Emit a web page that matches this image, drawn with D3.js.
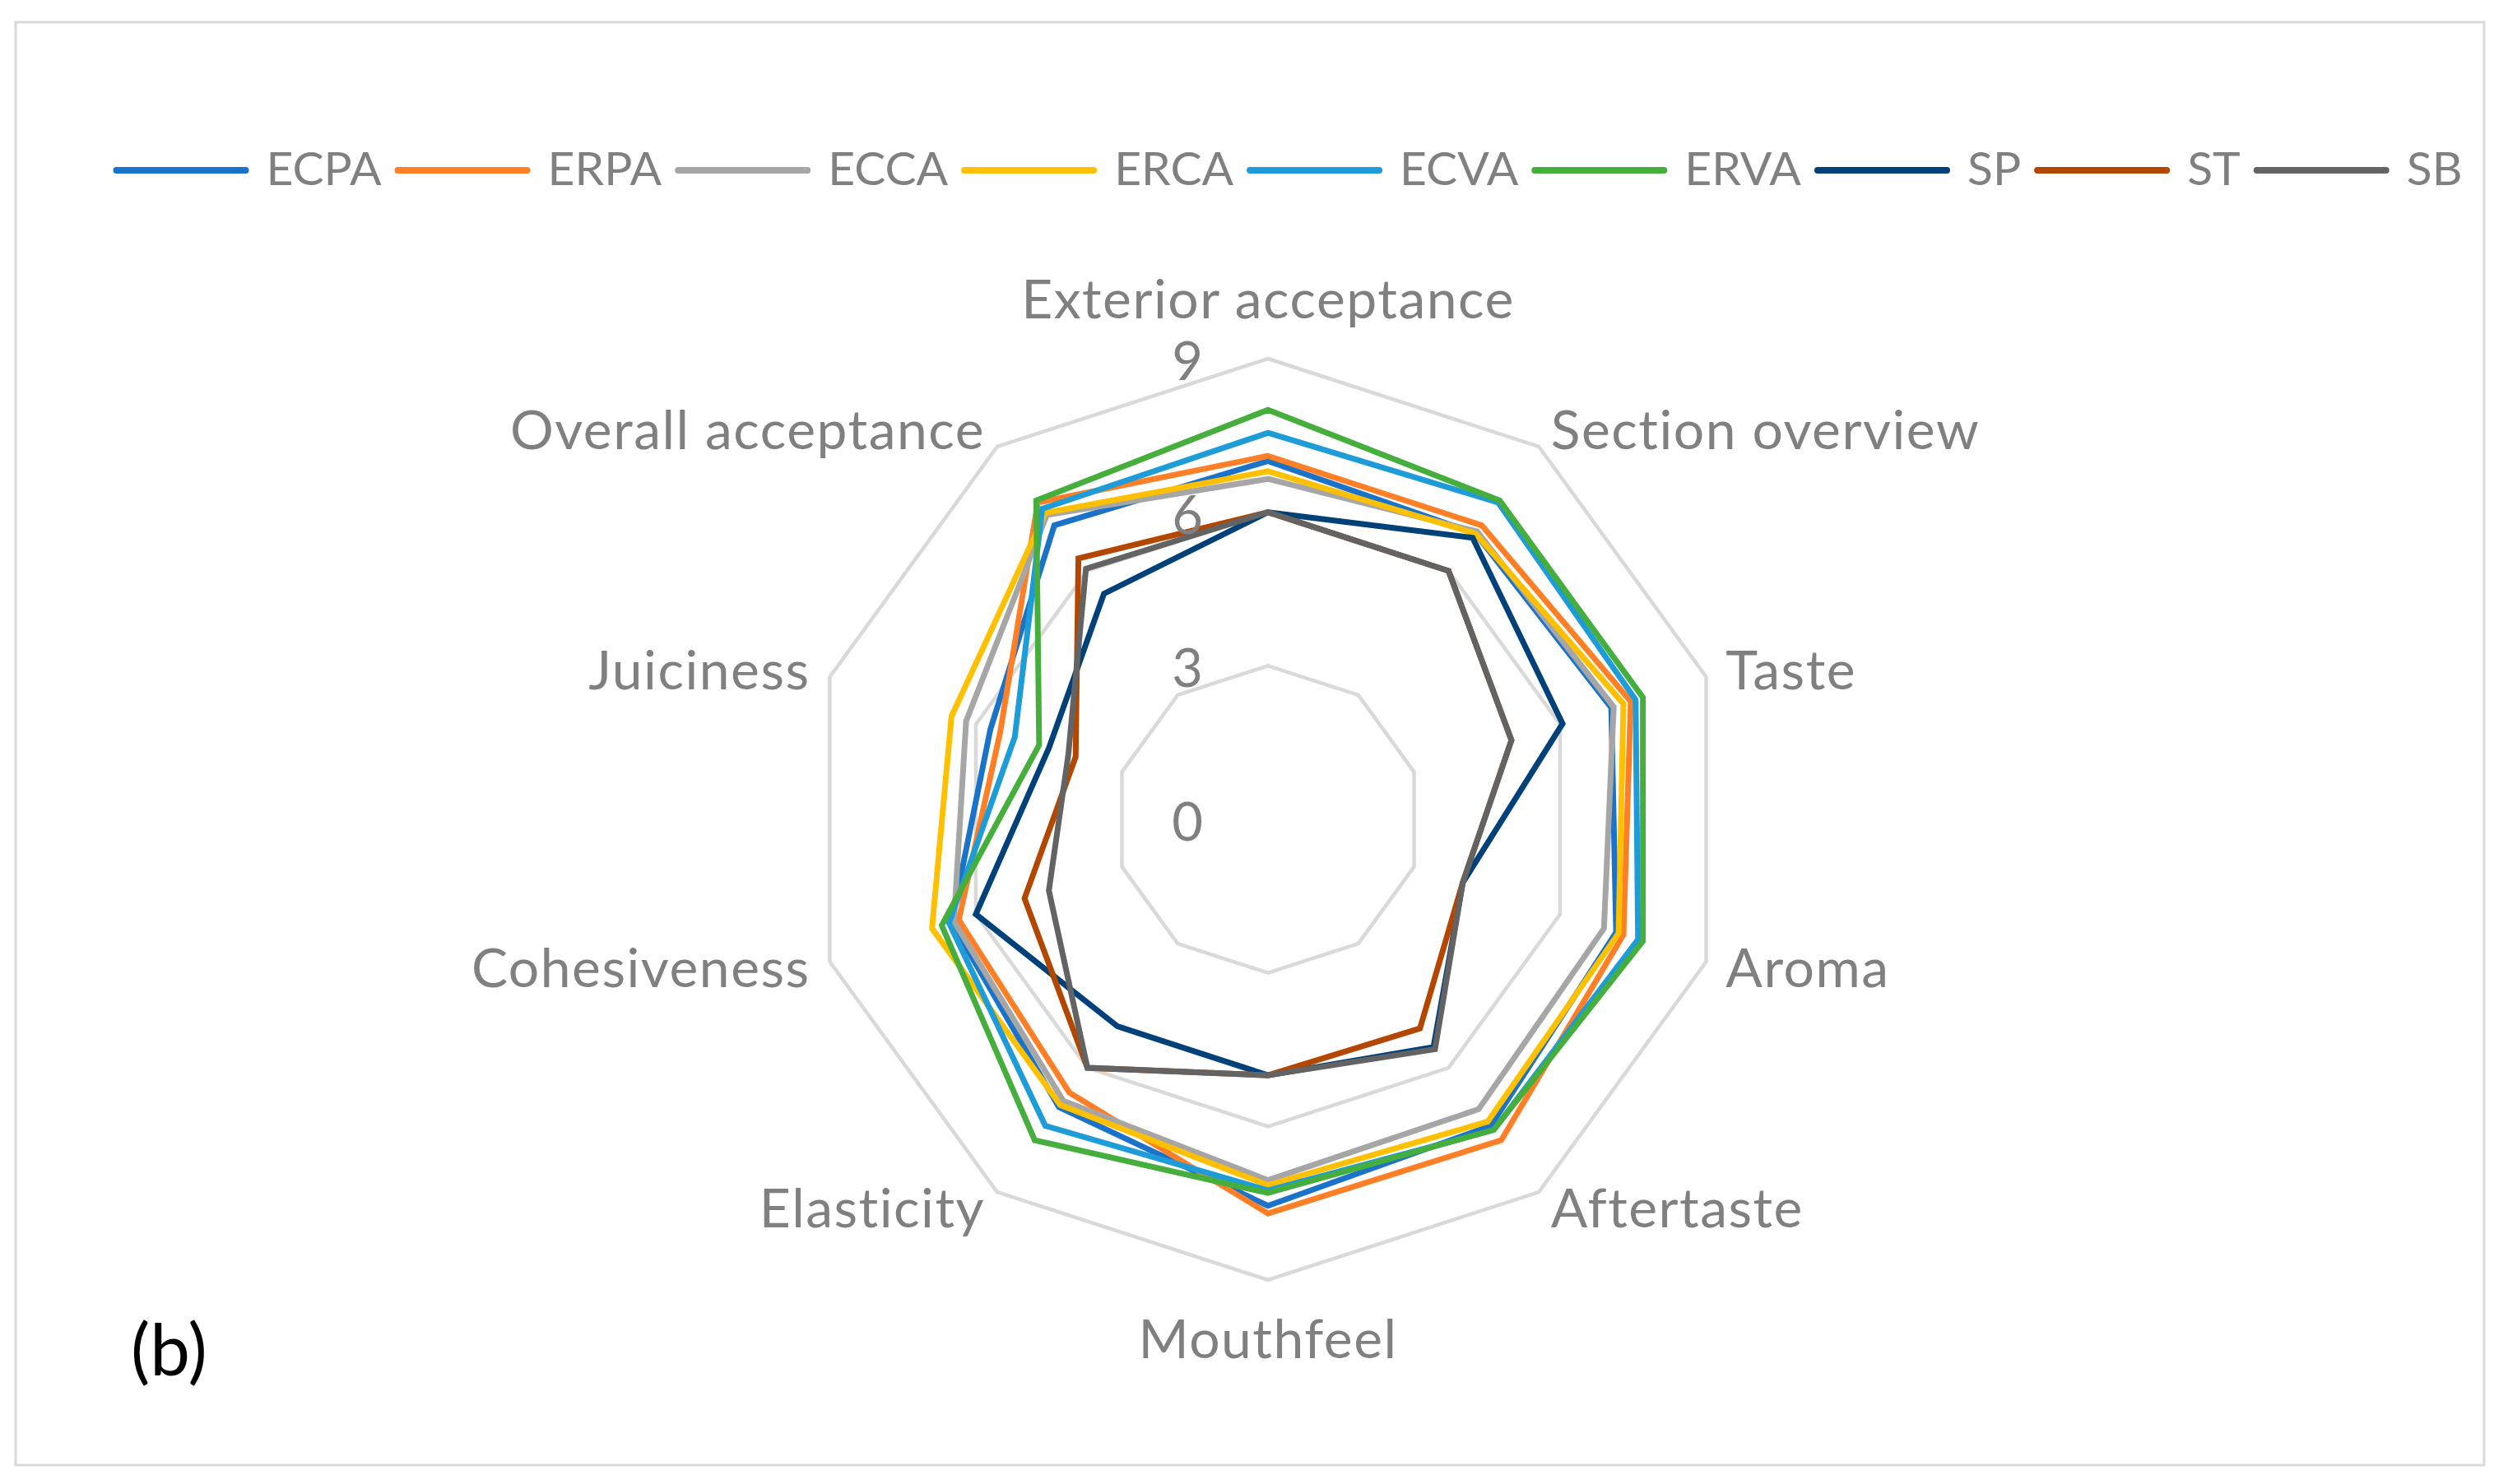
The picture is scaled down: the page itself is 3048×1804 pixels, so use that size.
<!DOCTYPE html>
<html>
<head>
<meta charset="utf-8">
<script src="https://cdn.jsdelivr.net/npm/d3@7"></script>
<style>
  html, body { margin: 0; padding: 0; background: #ffffff; }
  svg { display: block; }
</style>
</head>
<body>
<svg id="chart" width="3048" height="1804"></svg>
<script>
// ---------- data ----------
const categories = ["Exterior acceptance", "Section overview", "Taste", "Aroma", "Aftertaste",
                    "Mouthfeel", "Elasticity", "Cohesiveness", "Juiciness", "Overall acceptance"];
const seriesNames = ["ECPA", "ERPA", "ECCA", "ERCA", "ECVA", "ERVA", "SP", "ST", "SB"];
const seriesColors = ["#1B73C9", "#FF7F27", "#A6A6A6", "#FFC000", "#1E9CD8", "#46AE3C", "#00417A", "#B34700", "#636363"];
const ECPA = [7.0, 6.9, 7.05, 7.15, 7.4, 7.55, 6.95, 6.5, 5.7, 7.1];
const ERPA = [7.1, 7.1, 7.45, 7.3, 7.75, 7.7, 6.6, 6.35, 5.5, 7.65];
const ECCA = [6.65, 6.95, 7.1, 6.9, 7.0, 7.05, 6.8, 6.45, 6.2, 7.35];
const ERCA = [6.8, 6.9, 7.3, 7.2, 7.3, 7.15, 6.9, 6.9, 6.5, 7.4];
const ECVA = [7.55, 7.65, 7.55, 7.6, 7.5, 7.25, 7.4, 6.55, 5.2, 7.5];
const ERVA = [8.0, 7.7, 7.7, 7.7, 7.5, 7.3, 7.75, 6.7, 4.7, 7.7];
const SP   = [6.0, 6.8, 6.05, 4.0, 5.5, 5.0, 5.0, 6.0, 4.5, 5.45];
const ST   = [6.0, 6.0, 5.0, 4.0, 5.05, 5.0, 6.0, 5.0, 3.95, 6.3];
const SB   = [6.0, 6.0, 5.0, 4.0, 5.55, 5.0, 6.0, 4.5, 4.1, 6.05];
const seriesValues = [ECPA, ERPA, ECCA, ERCA, ECVA, ERVA, SP, ST, SB];
const ticks = [0, 3, 6, 9];
const gridLevels = [3, 6, 9];
const panelLabel = "(b)";

// ---------- layout ----------
const W = 3048, H = 1804;
const cx = 1541, cy = 996, R = 560;
const textColor = "#808080";
const gridColor = "#D9D9D9";
const font = "Lato, 'Open Sans', sans-serif";

const svg = d3.select("#chart");
svg.append("rect").attr("x", 0).attr("y", 0).attr("width", W).attr("height", H).attr("fill", "#fff");
svg.append("rect").attr("x", 19).attr("y", 27).attr("width", 3000).attr("height", 1754)
   .attr("fill", "none").attr("stroke", gridColor).attr("stroke-width", 3);

const r = d3.scaleLinear().domain([0, 9]).range([0, R]);
const n = categories.length;
const angle = i => i * 2 * Math.PI / n;

const g = svg.append("g").attr("transform", `translate(${cx},${cy})`);

// grid rings
const ringLine = d3.lineRadial()
  .angle((d, i) => angle(i))
  .radius(d => r(d))
  .curve(d3.curveLinearClosed);

g.selectAll("path.ring").data(gridLevels).join("path")
  .attr("class", "ring")
  .attr("d", v => ringLine(categories.map(() => v)))
  .attr("fill", "none").attr("stroke", gridColor).attr("stroke-width", 4.5)
  .attr("stroke-linejoin", "miter");

// series
const seriesLine = d3.lineRadial()
  .angle((d, i) => angle(i))
  .radius(d => r(d))
  .curve(d3.curveLinearClosed);

g.selectAll("path.series").data(seriesValues).join("path")
  .attr("class", "series")
  .attr("d", d => seriesLine(d))
  .attr("fill", "none")
  .attr("stroke", (d, i) => seriesColors[i])
  .attr("stroke-width", 7)
  .attr("stroke-linejoin", "miter");

// tick labels
g.selectAll("text.tick").data(ticks).join("text")
  .attr("class", "tick")
  .attr("x", -79)
  .attr("y", v => -r(v) + 26)
  .attr("text-anchor", "end")
  .attr("font-family", font).attr("font-size", 65)
  .attr("fill", textColor)
  .text(v => v);

// axis labels
g.selectAll("text.axis").data(categories).join("text")
  .attr("class", "axis")
  .each(function (d, i) {
    const a = angle(i);
    const s = Math.sin(a), c = Math.cos(a);
    const side = Math.abs(s) > 0.1;
    const rr = R + (side ? 25 : 72);
    const x = rr * s, y = -rr * c;
    d3.select(this)
      .attr("x", x)
      .attr("y", y + 23)
      .attr("text-anchor", s > 0.1 ? "start" : (s < -0.1 ? "end" : "middle"));
  })
  .attr("font-family", font).attr("font-size", 66)
  .attr("letter-spacing", 1.5)
  .attr("fill", textColor)
  .text(d => d);

// legend
const legend = svg.append("g");
const legendY = 207;
const swatchLen = 165;
const gapBefore = 21, gapAfter = 16;
let lx = 0;
seriesNames.forEach((name, i) => {
  const item = legend.append("g");
  item.append("line")
    .attr("x1", lx + 4).attr("x2", lx + swatchLen - 4)
    .attr("y1", legendY).attr("y2", legendY)
    .attr("stroke", seriesColors[i]).attr("stroke-width", 8).attr("stroke-linecap", "round");
  const t = item.append("text")
    .attr("x", lx + swatchLen + gapBefore).attr("y", legendY + 18)
    .attr("font-family", font).attr("font-size", 57)
    .attr("fill", textColor).text(name);
  const w = t.node().getComputedTextLength();
  lx = lx + swatchLen + gapBefore + w + gapAfter;
});
const legendWidth = lx - gapAfter;
legend.attr("transform", `translate(${1565 - legendWidth / 2},0)`);

// panel label
svg.append("text")
  .attr("x", 159).attr("y", 1672)
  .attr("font-family", font).attr("font-size", 87)
  .attr("fill", "#000").text(panelLabel);
</script>
</body>
</html>
